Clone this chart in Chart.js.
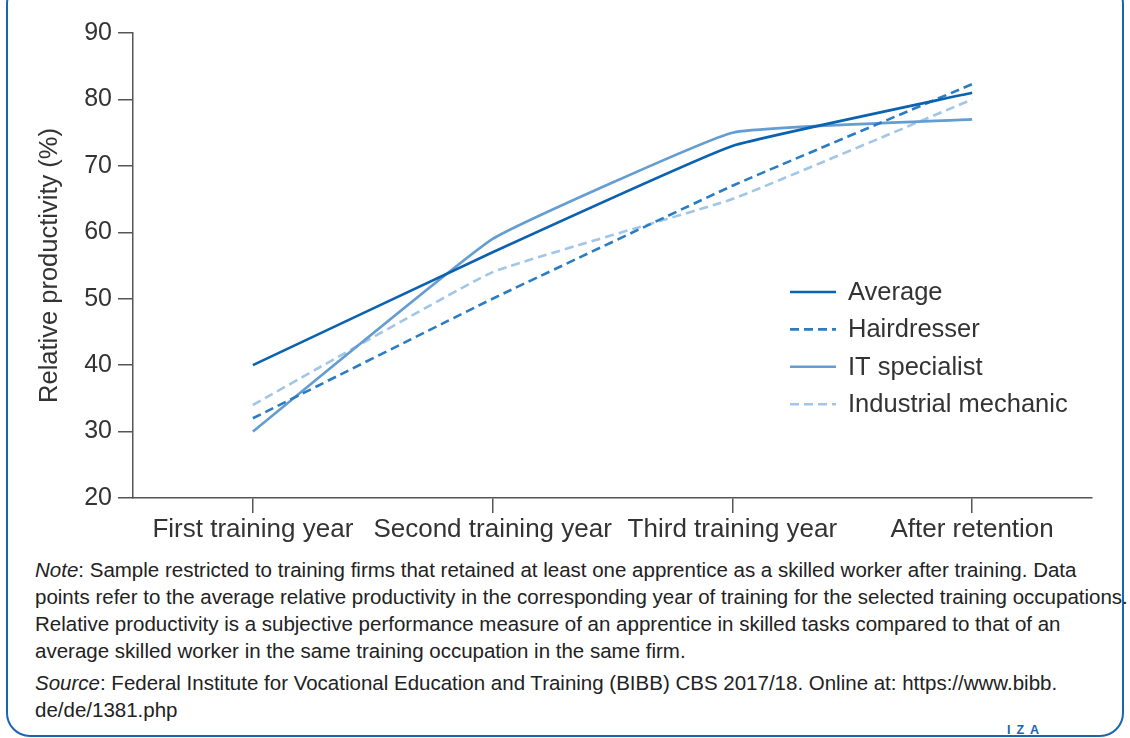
<!DOCTYPE html>
<html><head><meta charset="utf-8">
<script src="https://cdn.jsdelivr.net/npm/chart.js@4.4.0/dist/chart.umd.min.js"></script>
<style>
html,body{margin:0;padding:0;background:#fff;width:1130px;height:738px;overflow:hidden;font-family:"Liberation Sans",Arial,sans-serif;}
#frame{position:absolute;left:6px;top:-20px;width:1118px;height:757px;border:2.5px solid #1766b4;border-radius:24px;box-sizing:border-box;}
#wrap{position:absolute;left:0;top:0;width:1130px;height:545px;}
#notes{position:absolute;left:35px;top:556px;width:1100px;color:#222;font-size:20.5px;line-height:27px;white-space:nowrap;}
#notes p{margin:0 0 5px 0;}
#iza{position:absolute;left:1007px;top:724px;line-height:1;color:#1766b4;font-family:"Liberation Sans",Arial,sans-serif;font-weight:bold;font-size:12.5px;letter-spacing:6px;}
</style></head>
<body>
<div id="frame"></div>
<div id="wrap"><canvas id="c" width="1130" height="545"></canvas></div>
<div id="notes">
<p><i>Note</i>: Sample restricted to training firms that retained at least one apprentice as a skilled worker after training. Data<br>points refer to the average relative productivity in the corresponding year of training for the selected training occupations.<br>Relative productivity is a subjective performance measure of an apprentice in skilled tasks compared to that of an<br>average skilled worker in the same training occupation in the same firm.</p>
<p><i>Source</i>: Federal Institute for Vocational Education and Training (BIBB) CBS 2017/18. Online at: https://www.bibb.<br>de/de/1381.php</p>
</div>
<div id="iza">IZA</div>
<script>
const categories = ["First training year", "Second training year", "Third training year", "After retention"];
const averageValues = [40, 57, 73, 81];
const hairdresserValues = [32, 50, 67, 82.3];
const itSpecialistValues = [30, 59, 75, 77];
const mechanicValues = [34, 54, 65, 80];
const seriesNames = ["Average", "Hairdresser", "IT specialist", "Industrial mechanic"];
const yTicks = [20, 30, 40, 50, 60, 70, 80, 90];

const FONT = '"Liberation Sans", Arial, sans-serif';

const legendPlugin = {
  id: 'customLegend',
  afterDraw(chart) {
    const ctx = chart.ctx;
    const x0 = 790, y0 = 292, step = 37.4;
    ctx.save();
    chart.data.datasets.forEach((ds, i) => {
      const y = y0 + i * step;
      ctx.beginPath();
      ctx.strokeStyle = ds.borderColor;
      ctx.lineWidth = ds.borderWidth;
      ctx.setLineDash(ds.borderDash || []);
      ctx.moveTo(x0, y); ctx.lineTo(x0 + 46, y);
      ctx.stroke();
      ctx.setLineDash([]);
      ctx.fillStyle = '#333';
      ctx.font = '25.5px ' + FONT;
      ctx.textBaseline = 'middle';
      ctx.fillText(ds.label, x0 + 58, y + 1);
    });
    ctx.restore();
  }
};

new Chart(document.getElementById('c'), {
  type: 'line',
  data: {
    labels: categories,
    datasets: [
      {label: seriesNames[0], data: averageValues, borderColor: '#0a62b0', borderWidth: 2.6, tension: 0.1},
      {label: seriesNames[1], data: hairdresserValues, borderColor: '#2b7cc2', borderWidth: 2.6, borderDash: [9, 5], tension: 0.1},
      {label: seriesNames[2], data: itSpecialistValues, borderColor: '#639dd2', borderWidth: 2.6, tension: 0.1},
      {label: seriesNames[3], data: mechanicValues, borderColor: '#a2c6e6', borderWidth: 2.6, borderDash: [9, 5], tension: 0.1}
    ]
  },
  options: {
    responsive: false,
    animation: false,
    devicePixelRatio: 1,
    elements: {point: {radius: 0, hoverRadius: 0}},
    layout: {padding: {top: 33, right: 38, left: 0, bottom: 0}},
    plugins: {legend: {display: false}, tooltip: {enabled: false}},
    scales: {
      x: {
        offset: true,
        grid: {display: true, drawOnChartArea: false, drawTicks: true, tickLength: 15, color: '#555', lineWidth: 1.5, offset: false},
        border: {display: true, color: '#555', width: 1.5},
        ticks: {color: '#333', font: {size: 26, family: FONT}, padding: 1, maxRotation: 0, autoSkip: false},
        afterFit(s) { s.height = 47; }
      },
      y: {
        min: 20, max: 90,
        afterBuildTicks(s) { s.ticks = yTicks.map(v => ({value: v})); },
        grid: {display: true, drawOnChartArea: false, drawTicks: true, tickLength: 15, color: '#555', lineWidth: 1.5},
        border: {display: true, color: '#555', width: 1.5},
        ticks: {color: '#333', font: {size: 25, family: FONT}, padding: 6},
        title: {display: true, text: 'Relative productivity (%)', color: '#333', font: {size: 25.5, family: FONT}, padding: {top: 35, bottom: 0}},
        afterFit(s) { s.width = 133; }
      }
    }
  },
  plugins: [legendPlugin]
});
</script>
</body></html>
